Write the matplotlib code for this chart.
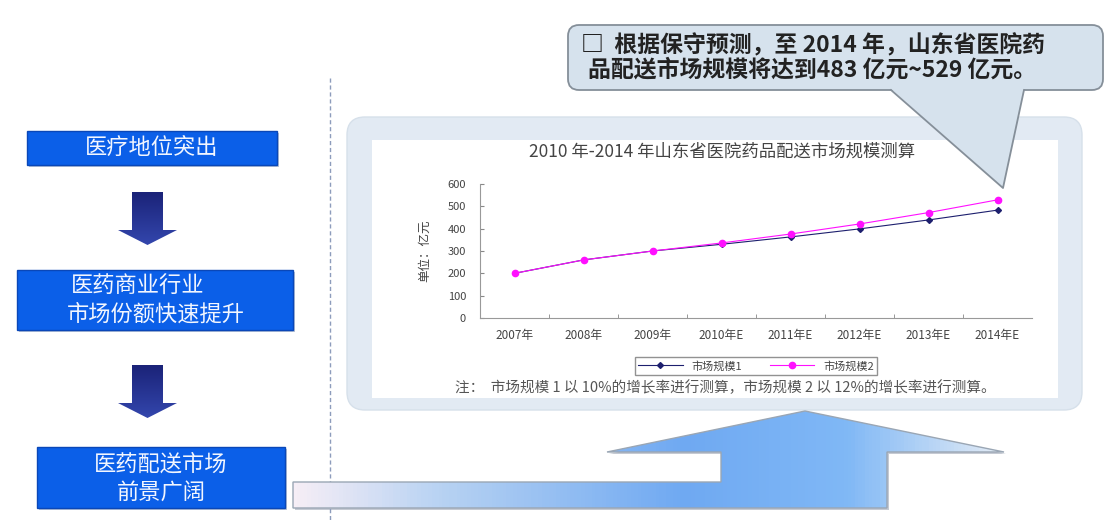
import matplotlib
matplotlib.use('Agg')
import matplotlib.pyplot as plt
import numpy as np
from matplotlib.patches import FancyBboxPatch, Polygon, Rectangle
from matplotlib.colors import LinearSegmentedColormap

plt.rcParams['font.family'] = ['Noto Sans CJK SC', 'DejaVu Sans']

# chart data
years = ['2007年', '2008年', '2009年', '2010年E', '2011年E', '2012年E', '2013年E', '2014年E']
scale1 = [200, 260, 300, 330, 363, 399, 439, 483]
scale2 = [200, 260, 300, 336, 376, 421, 472, 529]
series_names = ['市场规模1', '市场规模2']
y_ticks = [0, 100, 200, 300, 400, 500, 600]

chart_title = '2010 年-2014 年山东省医院药品配送市场规模测算'
y_label = '单位：亿元'
note = '注：  市场规模 1 以 10%的增长率进行测算，市场规模 2 以 12%的增长率进行测算。'
callout_lines = ['□  根据保守预测，至 2014 年，山东省医院药',
                 '品配送市场规模将达到483 亿元~529 亿元。']
flow_steps = [['医疗地位突出'],
              ['医药商业行业', '市场份额快速提升'],
              ['医药配送市场', '前景广阔']]

W, H = 1114, 520
fig = plt.figure(figsize=(W / 100, H / 100), dpi=100)

# background layer in pixel coordinates
bg = fig.add_axes([0, 0, 1, 1], zorder=0)
bg.set_xlim(0, W)
bg.set_ylim(H, 0)
bg.axis('off')

# dashed separator
bg.plot([330, 330], [78, 520], color='#8d9cbc', lw=1, ls=(0, (3, 2)))

# left flow boxes
boxes = [(27, 131, 250, 34), (17, 270, 276, 60), (37, 447, 248, 61)]
for (x, y, w, h), lines in zip(boxes, flow_steps):
    bg.add_patch(Rectangle((x + 2, y + 2), w, h, facecolor='#b9c4d6', edgecolor='none'))
    bg.add_patch(Rectangle((x, y), w, h, facecolor='#0b5fe8', edgecolor='#0a47b8', lw=1))
box_font = dict(color='#f2f6ff', fontsize=16, ha='center', va='center')
bg.text(152, 148, flow_steps[0][0], **box_font)
bg.text(138, 286, flow_steps[1][0], **box_font)
bg.text(156, 314, flow_steps[1][1], **box_font)
bg.text(161, 464, flow_steps[2][0], **box_font)
bg.text(161, 492, flow_steps[2][1], **box_font)

# down arrows between boxes
navy = LinearSegmentedColormap.from_list('navy', ['#1b2378', '#3346ad'])
for top in [192, 365]:
    pts = [(132, top), (163, top), (163, top + 38), (177, top + 38), (147.5, top + 53),
           (118, top + 38), (132, top + 38)]
    poly = Polygon(pts, closed=True, facecolor='none', edgecolor='none')
    bg.add_patch(poly)
    im = bg.imshow(np.linspace(0, 1, 50).reshape(-1, 1), cmap=navy, aspect='auto',
                   extent=(118, 177, top + 53, top), zorder=2)
    im.set_clip_path(poly)

# rounded panel behind the chart
bg.add_patch(FancyBboxPatch((347, 117), 735, 293, boxstyle='round,pad=0,rounding_size=18',
                            facecolor='#e2eaf3', edgecolor='#d6e0ea', lw=1))
bg.add_patch(Rectangle((372, 140), 686, 258, facecolor='white', edgecolor='none'))

# bent arrow at the bottom
arrow_pts = [(293, 482), (721, 482), (721, 452), (607, 452), (805, 411), (1004, 452),
             (887, 452), (887, 508), (293, 508)]
shadow = Polygon([(px + 2, py + 2) for px, py in arrow_pts], closed=True,
                 facecolor='#c5cad3', edgecolor='none')
bg.add_patch(shadow)
arrow = Polygon(arrow_pts, closed=True, facecolor='none', edgecolor='#9aa6b4', lw=1, zorder=3)
bg.add_patch(arrow)
blue = LinearSegmentedColormap.from_list(
    'blue', [(0, '#f6eef6'), (0.2, '#b9d3f3'), (0.55, '#6fa9f2'), (0.78, '#80b8f6'),
             (1, '#e4ecf5')])
im = bg.imshow(np.linspace(0, 1, 200).reshape(1, -1), cmap=blue, aspect='auto',
               extent=(293, 1004, 508, 411), zorder=2)
im.set_clip_path(arrow)

bg.text(725, 388, note, fontsize=10.5, color='#555555', ha='center', va='center')
bg.text(722, 152, chart_title, fontsize=12.5, color='#444444', ha='center', va='center')

# line chart
ax = fig.add_axes([480 / W, 1 - 318 / H, 552 / W, 134 / H], zorder=1)
ax.patch.set_alpha(0)
x = np.arange(len(years))
ax.plot(x, scale1, color='#1d1f6e', lw=0.8, marker='D', ms=3, label=series_names[0])
ax.plot(x, scale2, color='#ff10ff', lw=0.8, marker='o', ms=4.5, label=series_names[1])
ax.set_xlim(-0.5, len(years) - 0.5)
ax.set_ylim(0, 600)
ax.set_yticks(y_ticks)
ax.set_xticks(x)
ax.set_xticklabels(years)
ax.set_xticks(x[:-1] + 0.5, minor=True)
ax.tick_params(axis='x', which='major', length=0, labelsize=8.5, pad=8, colors='#444444')
ax.tick_params(axis='x', which='minor', length=3, direction='in', color='#888888')
ax.tick_params(axis='y', length=3, direction='in', labelsize=8, pad=10, colors='#444444',
               color='#888888')
ax.set_ylabel(y_label, fontsize=9, color='#444444', labelpad=12)
for s in ['top', 'right']:
    ax.spines[s].set_visible(False)
for s in ['left', 'bottom']:
    ax.spines[s].set_color('#999999')
ax.legend(loc='center', bbox_to_anchor=(756 / W, 1 - 366 / H), bbox_transform=fig.transFigure,
          ncol=2, fontsize=8, frameon=True, fancybox=False, edgecolor='#777777',
          handlelength=4, columnspacing=2.5, borderpad=0.3, labelcolor='#444444')

# callout on top
top = fig.add_axes([0, 0, 1, 1], zorder=2)
top.set_xlim(0, W)
top.set_ylim(H, 0)
top.axis('off')
top.add_patch(FancyBboxPatch((568, 25), 535, 65, boxstyle='round,pad=0,rounding_size=11',
                             facecolor='#d6e2ed', edgecolor='#858f99', lw=1.3))
top.add_patch(Polygon([(891, 89), (1003, 188), (1024, 89)], closed=True,
                      facecolor='#d6e2ed', edgecolor='none'))
top.plot([891, 1003, 1024], [90, 188, 90], color='#858f99', lw=1.3)
top.text(581, 46, callout_lines[0], fontsize=16.5, fontweight='bold', color='#222222',
         va='center', ha='left')
top.text(588, 70, callout_lines[1], fontsize=16.5, fontweight='bold', color='#222222',
         va='center', ha='left')

fig.savefig('out.png', dpi=100)
